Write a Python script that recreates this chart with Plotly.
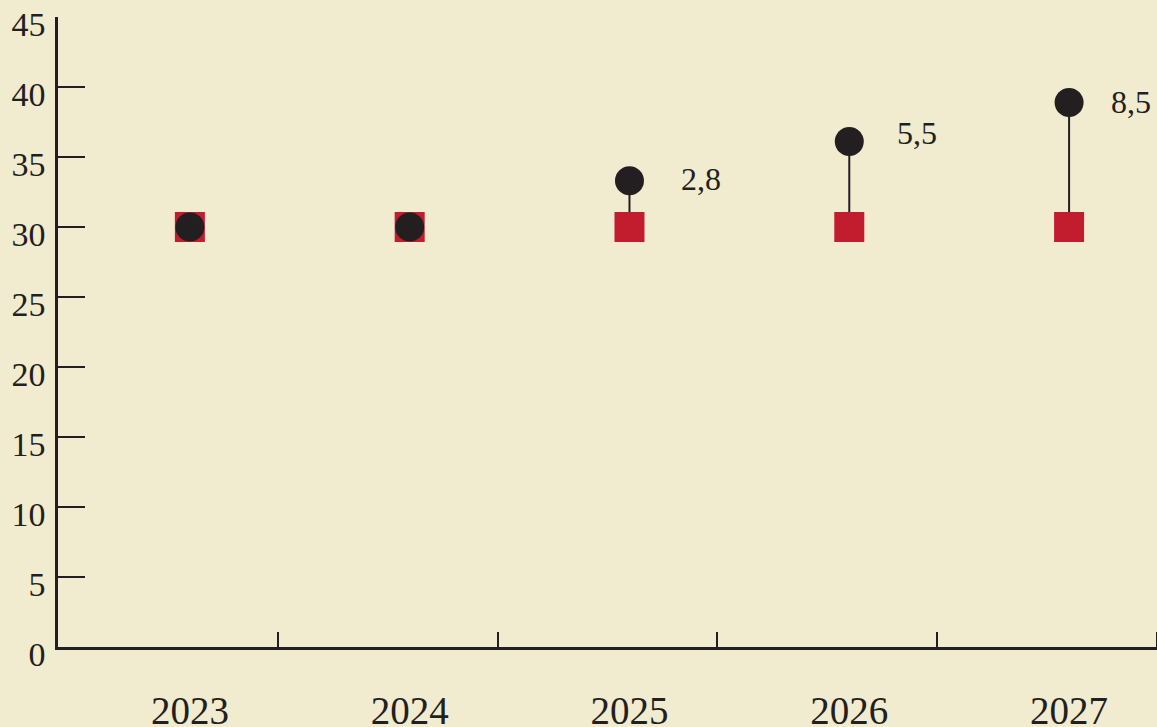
import plotly.graph_objects as go

# donnees
annees = [2023, 2024, 2025, 2026, 2027]
base = [30, 30, 30, 30, 30]
projection = [30, 30, 33.3, 36.1, 38.9]
ecarts = ["", "", "2,8", "5,5", "8,5"]

fond = "#F1EBCF"
rouge = "#C11D2E"
noir = "#231F20"
police = "Liberation Serif"

fig = go.Figure()

# traits verticaux entre base et projection
lx, ly = [], []
for a, b, p in zip(annees, base, projection):
    if p != b:
        lx += [a, a, None]
        ly += [b, p, None]
fig.add_trace(go.Scatter(x=lx, y=ly, mode="lines",
                         line=dict(color=noir, width=2), hoverinfo="skip"))

fig.add_trace(go.Scatter(x=annees, y=base, mode="markers",
                         marker=dict(symbol="square", size=30, color=rouge, line_width=0)))
fig.add_trace(go.Scatter(x=annees, y=projection, mode="markers",
                         marker=dict(symbol="circle", size=29, color=noir, line_width=0)))

decal = {"2,8": (50, 2), "5,5": (46, 9), "8,5": (40, 0)}
for a, p, t in zip(annees, projection, ecarts):
    if t:
        dx, dy = decal[t]
        fig.add_annotation(x=a, y=p, text=t, showarrow=False, xanchor="left",
                           xshift=dx, yshift=dy,
                           font=dict(family=police, size=32, color=noir))

fig.update_layout(
    width=1157, height=727,
    paper_bgcolor=fond, plot_bgcolor=fond,
    margin=dict(l=58, r=0, t=17, b=80),
    showlegend=False,
    font=dict(family=police, color=noir),
)

fig.update_xaxes(
    range=[2022.4, 2027.4], automargin=False,
    tickvals=annees, ticktext=[str(a) for a in annees],
    ticks="", showgrid=False, zeroline=False,
    showline=True, linecolor=noir, linewidth=2.5,
    tickfont=dict(family=police, size=39, color=noir),
    ticklabelstandoff=27,
    minor=dict(tickvals=[a + 0.4 for a in annees], ticks="inside",
               ticklen=15, tickwidth=2, tickcolor=noir, showgrid=False),
)
fig.update_yaxes(
    range=[0, 45], automargin=False, tickvals=list(range(0, 50, 5)),
    ticks="inside", ticklen=27, tickwidth=2, tickcolor=noir,
    showgrid=False, zeroline=False,
    showline=True, linecolor=noir, linewidth=2.5,
    tickfont=dict(family=police, size=34, color=noir),
    ticklabelstandoff=3, ticklabelshift=7, ticklabeloverflow="allow",
)

# la page garde sinon la marge de 8 px du navigateur
fig.write_html("out.html", config={"displayModeBar": False},
               post_script="document.body.style.margin='0px';")
